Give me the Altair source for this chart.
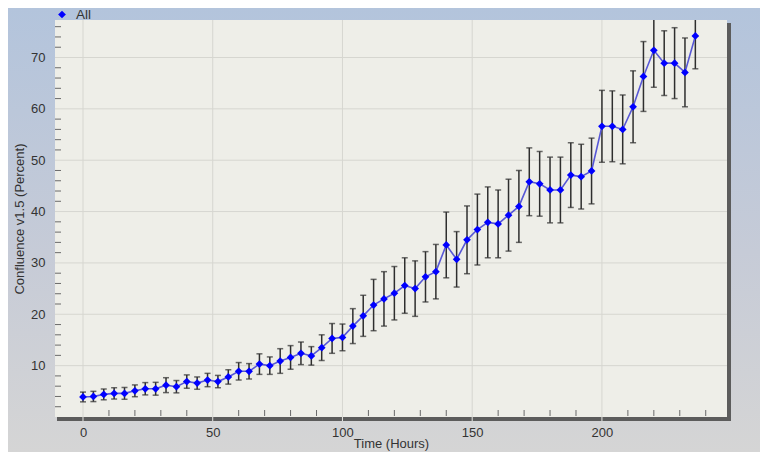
import altair as alt
import pandas as pd

# ---- data ----
hours = [0, 4, 8, 12, 16, 20, 24, 28, 32, 36, 40, 44, 48, 52, 56, 60, 64, 68, 72, 76,
         80, 84, 88, 92, 96, 100, 104, 108, 112, 116, 120, 124, 128, 132, 136, 140, 144, 148, 152, 156,
         160, 164, 168, 172, 176, 180, 184, 188, 192, 196, 200, 204, 208, 212, 216, 220, 224, 228, 232, 236]
confluence = [3.9, 4.0, 4.4, 4.6, 4.6, 5.1, 5.5, 5.5, 6.2, 5.9, 6.9, 6.6, 7.2, 6.9, 7.8, 8.9, 8.9, 10.3, 10.0, 10.9,
              11.6, 12.4, 11.9, 13.5, 15.3, 15.5, 17.7, 19.7, 21.8, 23.0, 24.1, 25.6, 25.0, 27.3, 28.3, 33.5, 30.7, 34.5, 36.5, 37.9,
              37.6, 39.3, 41.0, 45.8, 45.4, 44.2, 44.2, 47.1, 46.8, 47.9, 56.6, 56.6, 56.0, 60.4, 66.3, 71.4, 68.9, 68.9, 67.1, 74.2]
errors = [0.95, 1.0, 1.05, 1.1, 1.15, 1.15, 1.2, 1.25, 1.45, 1.2, 1.3, 1.2, 1.3, 1.2, 1.4, 1.7, 1.5, 2.0, 1.7, 2.4,
          2.3, 2.2, 1.8, 2.5, 2.9, 2.6, 3.4, 4.0, 5.0, 5.3, 5.2, 5.4, 5.4, 4.9, 5.3, 6.4, 5.4, 6.6, 6.9, 6.9,
          6.6, 7.0, 7.0, 6.6, 6.3, 6.4, 6.4, 6.3, 6.3, 6.4, 7.0, 6.9, 6.7, 7.0, 6.8, 7.2, 6.3, 6.9, 6.7, 6.4]

x_major = [0, 50, 100, 150, 200]
y_major = [10, 20, 30, 40, 50, 60, 70]
x_minor = [10, 20, 30, 40, 60, 70, 80, 90, 110, 120, 130, 140, 160, 170, 180, 190, 210, 220, 230, 240]
y_minor = [2, 4, 6, 8, 12, 14, 16, 18, 22, 24, 26, 28, 32, 34, 36, 38, 42, 44, 46, 48,
           52, 54, 56, 58, 62, 64, 66, 68, 72, 74, 76]
legend_label = ["All"]

W, H = 672, 397
FONT = "Liberation Sans"

df = pd.DataFrame({"t": hours, "v": confluence, "e": errors})
df["lo"] = df["v"] - df["e"]
df["hi"] = df["v"] + df["e"]

xs = alt.Scale(domain=[-10.79, 248.2], nice=False, zero=False)
ys = alt.Scale(domain=[0, 77.3], nice=False, zero=False)

one = pd.DataFrame({"a": [0]})

bg = alt.Chart(one).mark_rect(
    fill=alt.Gradient(gradient="linear", x1=0, x2=0, y1=0, y2=1,
                      stops=[alt.GradientStop(offset=0, color="#b3c4dc"),
                             alt.GradientStop(offset=0.55, color="#c6cbd7"),
                             alt.GradientStop(offset=1, color="#d5d5d5")])
).encode(x=alt.value(-47), x2=alt.value(W + 33), y=alt.value(-12), y2=alt.value(H + 35))

plotbg = alt.Chart(one).mark_rect(fill="#eeeee8").encode(
    x=alt.value(0), x2=alt.value(W), y=alt.value(0), y2=alt.value(H))

vgrid = alt.Chart(pd.DataFrame({"g": x_major})).mark_rule(color="#d6d6d0", strokeWidth=1).encode(
    x=alt.X("g:Q", scale=xs), y=alt.value(0), y2=alt.value(H))
hgrid = alt.Chart(pd.DataFrame({"g": y_major})).mark_rule(color="#d6d6d0", strokeWidth=1).encode(
    y=alt.Y("g:Q", scale=ys), x=alt.value(0), x2=alt.value(W))

yminor = alt.Chart(pd.DataFrame({"m": y_minor})).mark_rule(color="#6a6a6a", strokeWidth=1).encode(
    y=alt.Y("m:Q", scale=ys), x=alt.value(0), x2=alt.value(6))
xminor = alt.Chart(pd.DataFrame({"m": x_minor})).mark_rule(color="#6a6a6a", strokeWidth=1).encode(
    x=alt.X("m:Q", scale=xs), y=alt.value(H - 7), y2=alt.value(H - 1))

bottom_bar = alt.Chart(one).mark_rect(fill="#5c5c5c").encode(
    x=alt.value(2), x2=alt.value(W + 4), y=alt.value(H), y2=alt.value(H + 4))
right_bar = alt.Chart(one).mark_rect(fill="#5c5c5c").encode(
    x=alt.value(W), x2=alt.value(W + 4), y=alt.value(3), y2=alt.value(H + 4))
notches = alt.Chart(pd.DataFrame({"g": x_major})).mark_rule(color="#e4e4e0", strokeWidth=1).encode(
    x=alt.X("g:Q", scale=xs), y=alt.value(H), y2=alt.value(H + 4))

err = alt.Chart(df).mark_rule(color="#2e2e2e", strokeWidth=1.5, clip=True).encode(
    x=alt.X("t:Q", scale=xs, title="Time (Hours)",
            axis=alt.Axis(values=x_major, grid=False, ticks=False, tickSize=0, domain=False,
                          labelPadding=9, titlePadding=-2, zindex=2)),
    y=alt.Y("lo:Q", scale=ys, title="Confluence v1.5 (Percent)",
            axis=alt.Axis(values=y_major, grid=False, ticks=False, tickSize=0, domain=False,
                          labelPadding=10, titlePadding=4, zindex=2)),
    y2="hi:Q")
cap_lo = alt.Chart(df).mark_tick(color="#2e2e2e", orient="horizontal", size=6, thickness=1.5, clip=True).encode(
    x=alt.X("t:Q", scale=xs), y=alt.Y("lo:Q", scale=ys))
cap_hi = alt.Chart(df).mark_tick(color="#2e2e2e", orient="horizontal", size=6, thickness=1.5, clip=True).encode(
    x=alt.X("t:Q", scale=xs), y=alt.Y("hi:Q", scale=ys))

line = alt.Chart(df).mark_line(color="#5757d6", strokeWidth=1.6).encode(
    x=alt.X("t:Q", scale=xs), y=alt.Y("v:Q", scale=ys))
pts = alt.Chart(df).mark_point(shape="diamond", filled=True, color="#0000ff", size=60, opacity=1).encode(
    x=alt.X("t:Q", scale=xs), y=alt.Y("v:Q", scale=ys))

leg_df = pd.DataFrame({"label": legend_label})
leg_pt = alt.Chart(leg_df).mark_point(shape="diamond", filled=True, color="#0000ff", size=60, opacity=1).encode(
    x=alt.value(7), y=alt.value(-5.5))
leg_tx = alt.Chart(leg_df).mark_text(align="left", baseline="middle", font=FONT, fontSize=13.5,
                                     color="#333333").encode(
    x=alt.value(21), y=alt.value(-5.5), text="label:N")

chart = alt.layer(
    bg, plotbg, vgrid, hgrid, yminor, xminor, bottom_bar, right_bar, notches,
    err, cap_lo, cap_hi, line, pts, leg_pt, leg_tx
).properties(
    width=W, height=H,
    autosize=alt.AutoSizeParams(type="none"),
    padding={"left": 47, "top": 12, "right": 33, "bottom": 35},
    background="#c8ccd6",
).configure_view(strokeWidth=0).configure_axis(
    labelFont=FONT, titleFont=FONT, labelFontSize=13, titleFontSize=13,
    labelColor="#333333", titleColor="#333333", titleFontWeight="normal"
)

chart.save("out.html", embed_options={"renderer": "svg", "actions": False})
